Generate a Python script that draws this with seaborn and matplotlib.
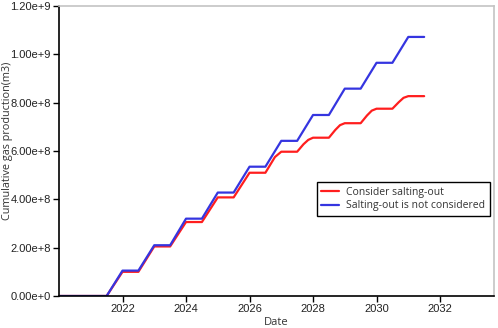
import numpy as np
import pandas as pd
import seaborn as sns
import matplotlib.pyplot as plt
from matplotlib.ticker import FuncFormatter

# 读图得到的数据 (x 为小数年份)
blue_x = [2020.0, 2021.5, 2022.0, 2022.5, 2023.0, 2023.5, 2024.0, 2024.5, 2025.0, 2025.5,
          2026.0, 2026.5, 2027.0, 2027.5, 2028.0, 2028.5, 2029.0, 2029.5, 2030.0, 2030.5,
          2031.0, 2031.5]
blue_y = [0, 0, 1.05e8, 1.05e8, 2.10e8, 2.10e8, 3.20e8, 3.20e8, 4.28e8, 4.28e8,
          5.35e8, 5.35e8, 6.42e8, 6.42e8, 7.49e8, 7.49e8, 8.58e8, 8.58e8, 9.65e8, 9.65e8,
          1.072e9, 1.072e9]

red_x = [2020.0, 2021.5, 2022.0, 2022.5, 2023.0, 2023.5, 2024.0, 2024.5, 2025.0, 2025.5,
         2026.0, 2026.5, 2026.8, 2027.0, 2027.5, 2027.7, 2027.85, 2028.0, 2028.5, 2028.7,
         2028.85, 2029.0, 2029.5, 2029.7, 2029.85, 2030.0, 2030.5, 2030.7, 2030.85, 2031.0,
         2031.5]
red_y = [0, 0, 1.00e8, 1.00e8, 2.05e8, 2.05e8, 3.06e8, 3.06e8, 4.08e8, 4.08e8,
         5.10e8, 5.10e8, 5.75e8, 5.97e8, 5.97e8, 6.28e8, 6.46e8, 6.55e8, 6.55e8, 6.87e8,
         7.07e8, 7.15e8, 7.15e8, 7.47e8, 7.67e8, 7.75e8, 7.75e8, 8.02e8, 8.20e8, 8.27e8,
         8.27e8]

labels = ["Consider salting-out", "Salting-out is not considered"]
colors = ["#ff1e1e", "#3535e0"]

df = pd.concat([
    pd.DataFrame({"Date": red_x, "gas": red_y, "case": labels[0]}),
    pd.DataFrame({"Date": blue_x, "gas": blue_y, "case": labels[1]}),
])

sns.set_style("white")
plt.rcParams["font.family"] = ["Liberation Sans", "DejaVu Sans"]

fig = plt.figure(figsize=(4.98, 3.28), dpi=100)
ax = fig.add_axes([0.1185, 0.0976, 0.8735, 0.8841])

sns.lineplot(data=df, x="Date", y="gas", hue="case", hue_order=labels,
             palette=colors, estimator=None, linewidth=1.6, ax=ax)

ax.set_xlim(2020, 2033.7)
ax.set_ylim(0, 1.2e9)
ax.set_xticks([2022, 2024, 2026, 2028, 2030, 2032])
ax.set_yticks(np.arange(0, 1.21e9, 2e8))


def fmt(v, pos):
    if v == 0:
        return "0.00e+0"
    e = int(np.floor(np.log10(abs(v))))
    return f"{v / 10**e:.2f}e+{e}"


ax.yaxis.set_major_formatter(FuncFormatter(fmt))
ax.xaxis.set_major_formatter(FuncFormatter(lambda v, p: f"{int(v)}"))
ax.tick_params(axis="both", direction="out", length=4, width=1, colors="black",
               labelsize=8, labelcolor="#222222", left=True, bottom=True, pad=2)

for s in ["left", "bottom"]:
    ax.spines[s].set_color("black")
    ax.spines[s].set_linewidth(1.2)
for s in ["top", "right"]:
    ax.spines[s].set_color("#c4c4c4")
    ax.spines[s].set_linewidth(1.2)

ax.set_xlabel("Date", fontsize=8, family="Open Sans", labelpad=2, color="#333333")
ax.set_ylabel("Cumulative gas production(m3)", fontsize=7.8, family="Open Sans",
              color="#333333")
ax.yaxis.set_label_coords(-0.106, 0.535)

leg = ax.legend(loc="upper right", bbox_to_anchor=(0.991, 0.393), borderaxespad=0,
                frameon=True, fancybox=False, edgecolor="black", framealpha=1,
                prop={"family": "Open Sans", "size": 7.5}, handlelength=1.7,
                handletextpad=0.7, borderpad=0.45, labelspacing=0.25)
leg.get_frame().set_linewidth(1.0)
for t in leg.get_texts():
    t.set_color("#333333")

fig.savefig("out.png", dpi=100)
